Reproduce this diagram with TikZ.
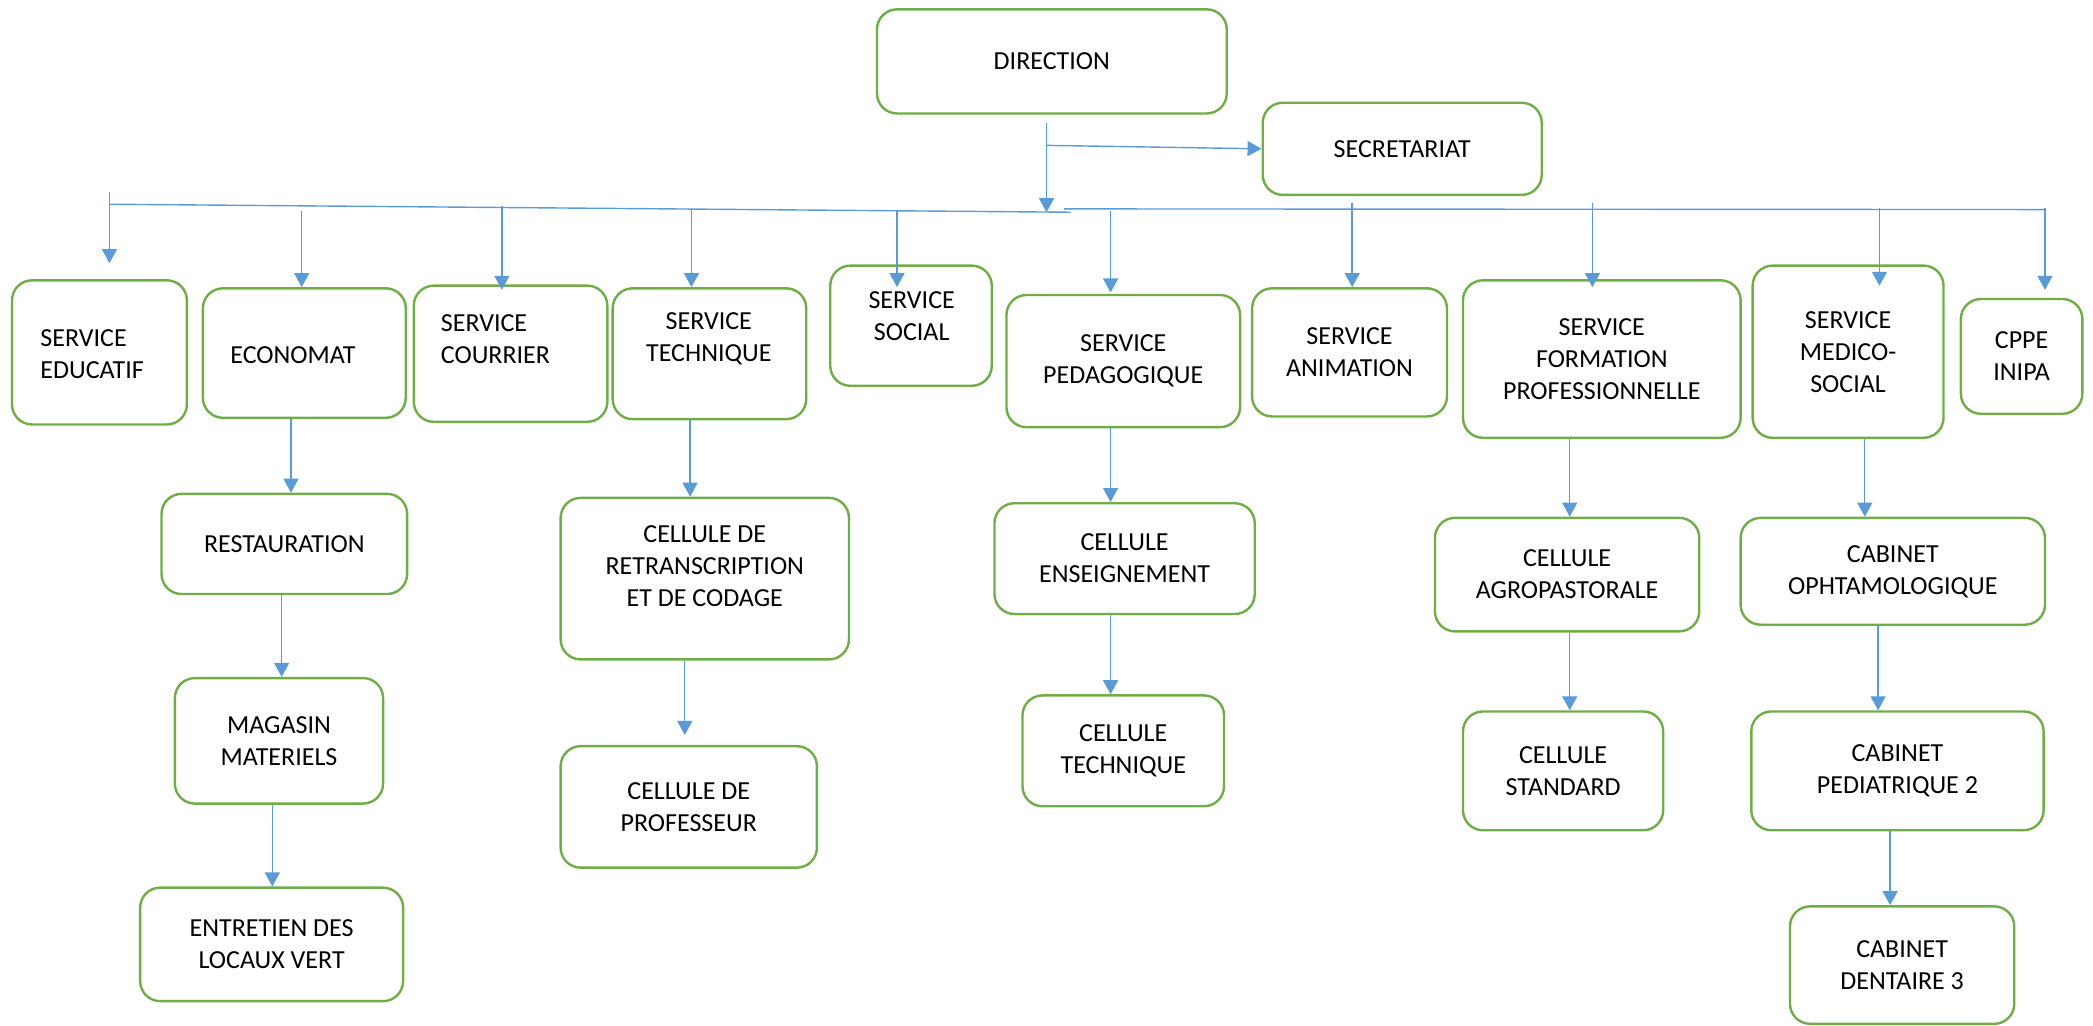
\documentclass[tikz,border=0pt]{standalone}
\usepackage{fontspec}
\setmainfont{Carlito}
\usepackage{xcolor}
\usetikzlibrary{arrows.meta}
\definecolor{boxgreen}{HTML}{70AD47}
\definecolor{linkblue}{HTML}{5B9BD5}

\begin{document}
\begin{tikzpicture}[x=0.6674pt, y=-0.6674pt, font={\fontsize{13}{16}\selectfont},
  box/.style={draw=boxgreen, line width=1.2pt, rounded corners=10pt, align=center, inner sep=0pt},
  sz/.style 2 args={minimum width=#1*0.6674pt, minimum height=#2*0.6674pt},
  txt/.style={align=center, inner sep=0pt},
  link/.style={draw=linkblue, line width=0.7pt},
  arr/.style={link, -{Triangle[width=7.5pt,length=7pt]}}]

\useasboundingbox (0,0) rectangle (1568,768);

% top
\node[box, sz={262}{78}] (dir) at (788,46) {DIRECTION};
\node[box, sz={209}{69}] (sec) at (1050.5,111.5) {SECRETARIAT};

% services
\node[box, sz={131}{108}] (edu) at (74.5,264) {};
\node[txt, align=left, anchor=west] (edu-t) at (30,265) {SERVICE\\EDUCATIF};
\node[box, sz={152}{97}] (econ) at (228,264.5) {};
\node[txt] (econ-t) at (219.5,266) {ECONOMAT};
\node[box, sz={145}{102}] (cour) at (382.5,265) {};
\node[txt, align=left, anchor=west] (cour-t) at (330,254) {SERVICE\\COURRIER};
\node[box, sz={145}{98}] (tech) at (531.5,265) {};
\node[txt] (tech-t) at (531,254) {SERVICE\\TECHNIQUE};
\node[box, sz={121}{90}] (soc) at (682.5,244) {};
\node[txt] (soc-t) at (683,237) {SERVICE\\SOCIAL};
\node[box, sz={175}{99}] (peda) at (841.5,270.5) {SERVICE\\PEDAGOGIQUE};
\node[box, sz={146}{96}] (anim) at (1011,264) {SERVICE\\ANIMATION};
\node[box, sz={208}{118}] (form) at (1200,269) {SERVICE\\FORMATION\\PROFESSIONNELLE};
\node[box, sz={143}{129}] (medi) at (1384.5,263.5) {SERVICE\\MEDICO-\\SOCIAL};
\node[box, sz={91}{86}] (cppe) at (1514.5,267) {CPPE\\INIPA};

% cellules
\node[box, sz={184}{75}] (rest) at (213,407.5) {RESTAURATION};
\node[box, sz={156}{94}] (maga) at (209,555) {MAGASIN\\MATERIELS};
\node[box, sz={197}{85}] (entr) at (203.5,707.5) {ENTRETIEN DES\\LOCAUX VERT};
\node[box, sz={216}{121}] (retr) at (528,433.5) {};
\node[txt] (retr-t) at (528,424) {CELLULE DE\\RETRANSCRIPTION\\ET DE CODAGE};
\node[box, sz={192}{91}] (prof) at (516,604.5) {CELLULE DE\\PROFESSEUR};
\node[box, sz={195}{83}] (ens) at (842.5,418.5) {CELLULE\\ENSEIGNEMENT};
\node[box, sz={151}{83}] (ctec) at (841.5,562.5) {CELLULE\\TECHNIQUE};
\node[box, sz={198}{85}] (agro) at (1174,430.5) {CELLULE\\AGROPASTORALE};
\node[box, sz={150}{89}] (stan) at (1171,577.5) {CELLULE\\STANDARD};
\node[box, sz={228}{80}] (opht) at (1418,428) {CABINET\\OPHTAMOLOGIQUE};
\node[box, sz={219}{89}] (pedi) at (1421.5,577.5) {CABINET\\PEDIATRIQUE 2};
\node[box, sz={168}{88}] (dent) at (1425,723) {CABINET\\DENTAIRE 3};

% bus
\coordinate (busW) at (82,153);
\coordinate (busC) at (802,159);
\coordinate (busR) at (797,156.5);
\coordinate (busE) at (1532,157);
\draw[link] (busW) -- (busC);
\draw[link] (busR) -- (busE);

\draw[arr] ([shift={(-4,6)}]dir.south) -- ([shift={(-4,0)}]dir.south |- busC);
\draw[arr] ([shift={(-4,23)}]dir.south) -- (sec.west);

\foreach \n/\dx/\s/\t in {edu/7.5/-65/-12, econ/-2/-57/0, cour/-6.5/-59/4, tech/-13.5/-58/0,
  soc/-10.5/-41/17, peda/-9.5/-62/-1, anim/2/-63/0, form/-7/-57/6, medi/23.5/-42/16, cppe/17.5/-67/-6}
  \draw[arr] ([shift={(\dx,\s)}]\n.north) -- ([shift={(\dx,\t)}]\n.north);

\foreach \a/\dx/\b/\s in {econ/-10/rest/0, rest/-2/maga/0, maga/-5/entr/0, tech/-14.5/retr/0,
  retr/-15/prof/5, peda/-9.5/ens/0, ens/-10.5/ctec/0, form/-24/agro/0, agro/2/stan/0,
  medi/12.5/opht/0, opht/-11/pedi/0, pedi/-5.5/dent/0}
  \draw[arr, shorten >=\s pt] ([shift={(\dx,0)}]\a.south) -- ([shift={(\dx,0)}]\a.south |- \b.north);

\end{tikzpicture}
\end{document}
